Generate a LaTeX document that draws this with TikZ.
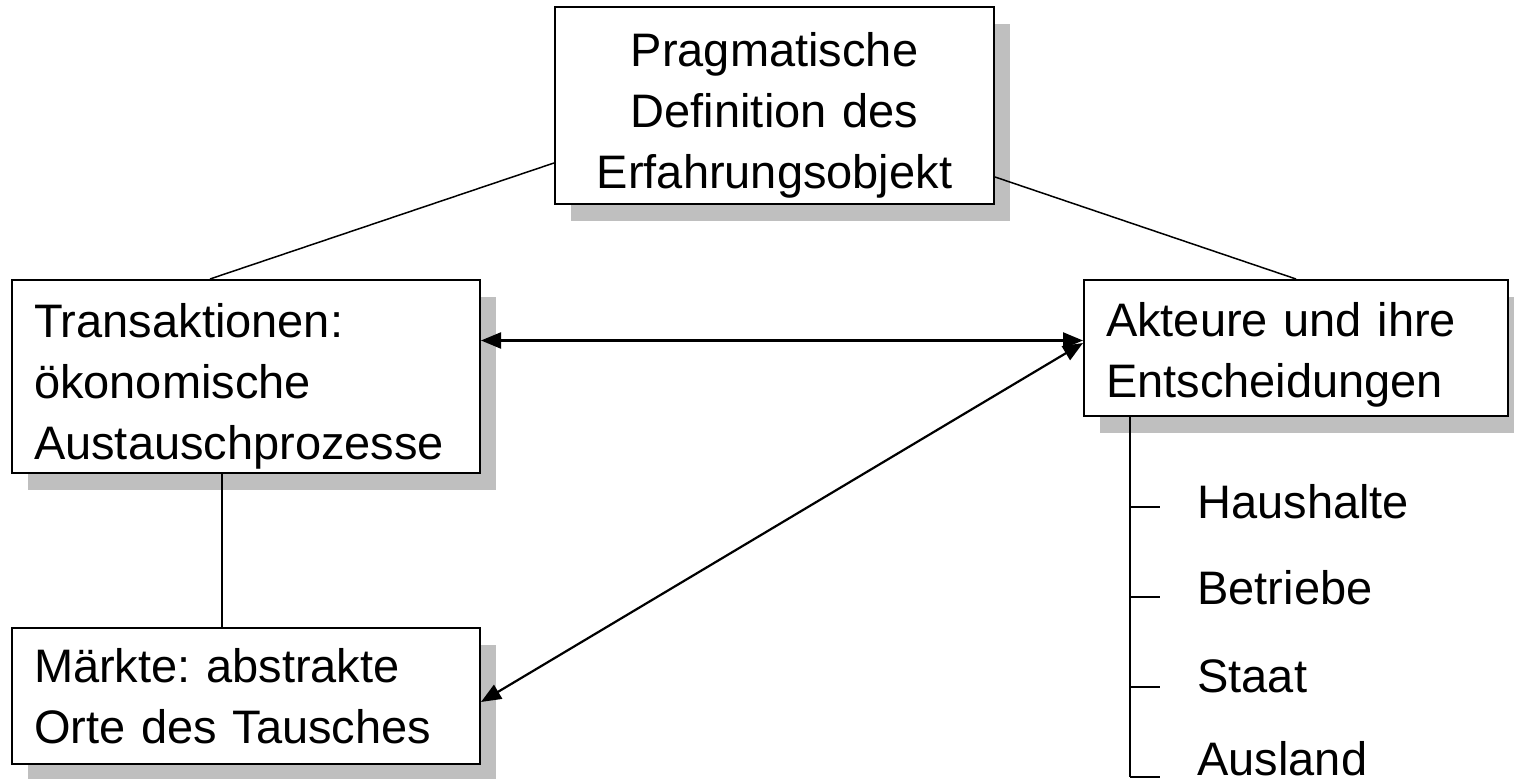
\documentclass[tikz,border=0pt]{standalone}
\usepackage{fontspec}
\setmainfont{Liberation Sans}
\frenchspacing
\usetikzlibrary{shadows,arrows.meta,calc}
\newcommand{\liftline}[1]{\rule{0pt}{#1}}
\tikzset{
  box/.style={draw, line width=1pt, fill=white, inner xsep=11pt, inner ysep=0pt,
    drop shadow={shadow xshift=8pt, shadow yshift=-8.5pt, fill=black!25, opacity=1},
    font=\fontsize{23.5}{30.5}\selectfont},
  conn/.style={line width=0.75pt},
  arr/.style={line width=1.1pt, {Triangle[length=10pt,width=8pt]}-{Triangle[length=10pt,width=8pt]}},
  itemtext/.style={anchor=base west, inner sep=0pt, font=\fontsize{23.5}{30.5}\selectfont},
}
\begin{document}
\begin{tikzpicture}[x=0.5pt,y=-0.5pt]
\useasboundingbox (0,0) rectangle (1514,779);
\node[box, minimum width=219.5pt, minimum height=98.5pt, text width=197.5pt, align=center] (top) at (774.5,105.5)
  {\liftline{27pt}Pragmatische\\Definition des\\Erfahrungsobjekt};
\node[box, minimum width=234pt, minimum height=96.5pt, text width=212pt, align=left] (trans) at (246,376.5)
  {\liftline{27pt}Transaktionen:\\ökonomische\\Austauschprozesse};
\node[box, minimum width=212pt, minimum height=68pt, text width=190pt, align=left] (akt) at (1296,348)
  {\liftline{24pt}Akteure und ihre\\Entscheidungen};
\node[box, minimum width=234pt, minimum height=68pt, text width=212pt, align=left] (mark) at (246,696)
  {Märkte: abstrakte\\Orte des Tausches};

\draw[conn] ([yshift=-28.75pt]top.west) -- ([xshift=-18pt]trans.north);
\draw[conn] ([yshift=-35.75pt]top.east) -- (akt.north);
\draw[conn] ([xshift=-12pt]trans.south) -- ([xshift=-12pt]mark.north);

\draw[arr] ([yshift=18pt]trans.east) -- ([yshift=18pt]trans.east -| akt.west);
\draw[arr] ([yshift=2.5pt]akt.west) -- ([yshift=-3pt]mark.east);

% tree
\coordinate (b1) at (1130,507);
\coordinate (b2) at (1130,597);
\coordinate (b3) at (1130,687);
\coordinate (b4) at (1130,777);
\coordinate (e1) at (1160,507);
\coordinate (e2) at (1160,597);
\coordinate (e3) at (1160,687);
\coordinate (e4) at (1160,777);
\draw[conn] ([xshift=-83pt]akt.south) -- (b4);
\draw[conn] (b1) -- (e1);
\draw[conn] (b2) -- (e2);
\draw[conn] (b3) -- (e3);
\draw[conn] (b4) -- (e4);
\node[itemtext] (h1) at (1197,519) {Haushalte};
\node[itemtext] (h2) at (1197,605) {Betriebe};
\node[itemtext] (h3) at (1197,692) {Staat};
\node[itemtext] (h4) at (1197,775) {Ausland};
\end{tikzpicture}
\end{document}
